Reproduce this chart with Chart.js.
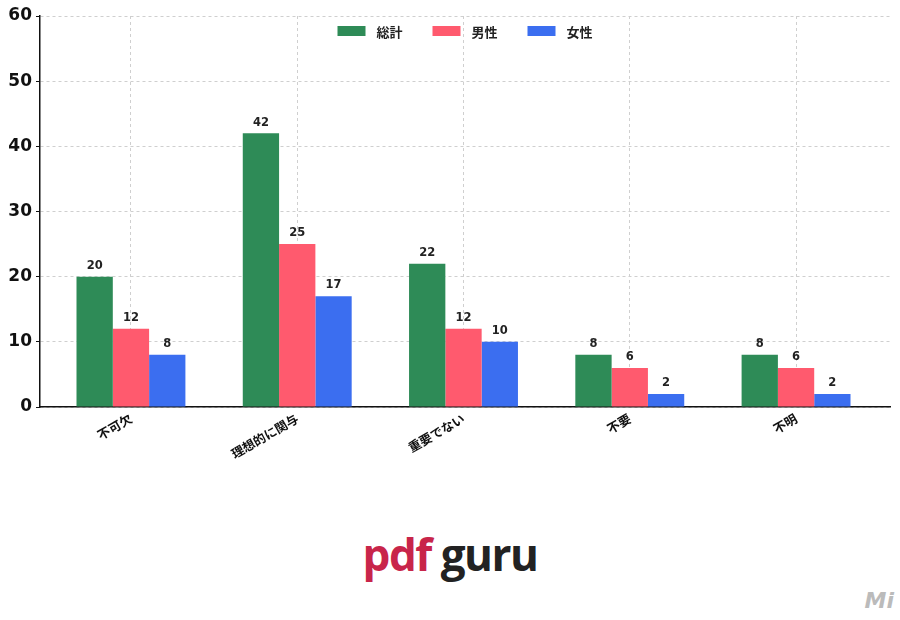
<!DOCTYPE html>
<html>
<head>
<meta charset="utf-8">
<script src="https://cdn.jsdelivr.net/npm/chart.js@4"></script>
<style>
  html, body { margin: 0; padding: 0; background: #fff; }
  #wrap { position: relative; width: 900px; height: 620px; }
  #chartBox { position: absolute; left: 0; top: 0; width: 900px; height: 470px; }
  #logo { position: absolute; left: 0; width: 900px; top: 532px; text-align: center;
          font-family: 'Open Sans', 'DejaVu Sans', sans-serif; font-weight: 700; font-size: 44px;
          letter-spacing: -1.5px; line-height: 1; }
  #logo .pdf { color: #c8254a; }
  #logo .guru { color: #222; }
  #mark { position: absolute; right: 6px; top: 588px; font-family: 'DejaVu Sans', sans-serif;
          font-style: italic; font-weight: 700; font-size: 22px; color: #bbb; }
</style>
</head>
<body>
<div id="wrap">
  <div id="chartBox"><canvas id="chart"></canvas></div>
  <div id="logo"><span class="pdf">pdf</span> <span class="guru">guru</span></div>
  <div id="mark">Mi</div>
</div>
<script>
/* --- Data -------------------------------------------------- */
const CATEGORIES = ['不可欠', '理想的に関与', '重要でない', '不要', '不明'];
const SERIES_NAMES = ['総計', '男性', '女性'];
const TOTAL = [20, 42, 22, 8, 8];
const MALE = [12, 25, 12, 6, 6];
const FEMALE = [8, 17, 10, 2, 2];
const Y_TICKS = [0, 10, 20, 30, 40, 50, 60];

const COLORS = ['#2e8b57', '#ff5a6e', '#3b6ef0'];

/* --- Value labels above bars ------------------------------- */
const valueLabels = {
  id: 'valueLabels',
  afterDatasetsDraw(chart) {
    const ctx = chart.ctx;
    ctx.save();
    ctx.font = 'bold 11.5px "DejaVu Sans", sans-serif';
    ctx.fillStyle = '#222';
    ctx.textAlign = 'center';
    ctx.textBaseline = 'bottom';
    chart.data.datasets.forEach((ds, i) => {
      chart.getDatasetMeta(i).data.forEach((bar, j) => {
        ctx.fillText(ds.data[j].y, bar.x, bar.y - 5);
      });
    });
    ctx.restore();
  }
};

/* --- Legend inside the plot, top centre -------------------- */
const innerLegend = {
  id: 'innerLegend',
  afterDraw(chart) {
    const ctx = chart.ctx;
    const area = chart.chartArea;
    const boxW = 28, boxH = 10, gapText = 11, gapItem = 30;
    ctx.save();
    ctx.font = 'bold 13px "Noto Sans CJK JP", sans-serif';
    const widths = chart.data.datasets.map(ds => boxW + gapText + ctx.measureText(ds.label).width);
    const total = widths.reduce((a, b) => a + b, 0) + gapItem * (widths.length - 1);
    let x = (area.left + area.right) / 2 - total / 2;
    const y = area.top + 15;
    chart.data.datasets.forEach((ds, i) => {
      ctx.fillStyle = ds.backgroundColor;
      ctx.fillRect(x, y - boxH / 2, boxW, boxH);
      ctx.fillStyle = '#222';
      ctx.textAlign = 'left';
      ctx.textBaseline = 'middle';
      ctx.fillText(ds.label, x + boxW + gapText, y + 1);
      x += widths[i] + gapItem;
    });
    ctx.restore();
  }
};

const toPoints = arr => arr.map((v, i) => ({ x: i, y: v }));

new Chart(document.getElementById('chart'), {
  type: 'bar',
  data: {
    datasets: [TOTAL, MALE, FEMALE].map((vals, i) => ({
      label: SERIES_NAMES[i],
      data: toPoints(vals),
      backgroundColor: COLORS[i],
      categoryPercentage: 0.655,
      barPercentage: 1,
    }))
  },
  options: {
    responsive: true,
    maintainAspectRatio: false,
    animation: false,
    layout: { padding: { top: 16, right: 10, left: 0, bottom: 0 } },
    plugins: {
      legend: { display: false },
      tooltip: { enabled: false }
    },
    scales: {
      x: {
        type: 'linear',
        offset: false,
        min: -0.547,
        max: 4.565,
        afterBuildTicks: s => { s.ticks = CATEGORIES.map((_, i) => ({ value: i })); },
        afterFit: s => { s.height = 63; },
        ticks: {
          callback: v => CATEGORIES[v],
          minRotation: 30, maxRotation: 30,
          color: '#111',
          padding: 4,
          font: { family: '"Noto Sans CJK JP", sans-serif', size: 12.5, weight: 'bold' }
        },
        grid: { offset: false, color: '#cfcfcf', lineWidth: 1, drawTicks: false },
        border: { display: true, color: '#111', width: 1.5, dash: [3, 3] }
      },
      y: {
        min: 0, max: 60,
        afterBuildTicks: s => { s.ticks = Y_TICKS.map(v => ({ value: v })); },
        afterFit: s => { s.width = 40; },
        ticks: {
          color: '#111',
          padding: 4,
          font: { family: '"DejaVu Sans", sans-serif', size: 17, weight: 'bold' }
        },
        grid: { color: '#cfcfcf', lineWidth: 1, tickLength: 4, tickColor: '#111' },
        border: { display: true, color: '#111', width: 1.5, dash: [3, 3] }
      }
    }
  },
  plugins: [valueLabels, innerLegend]
});
</script>
</body>
</html>
